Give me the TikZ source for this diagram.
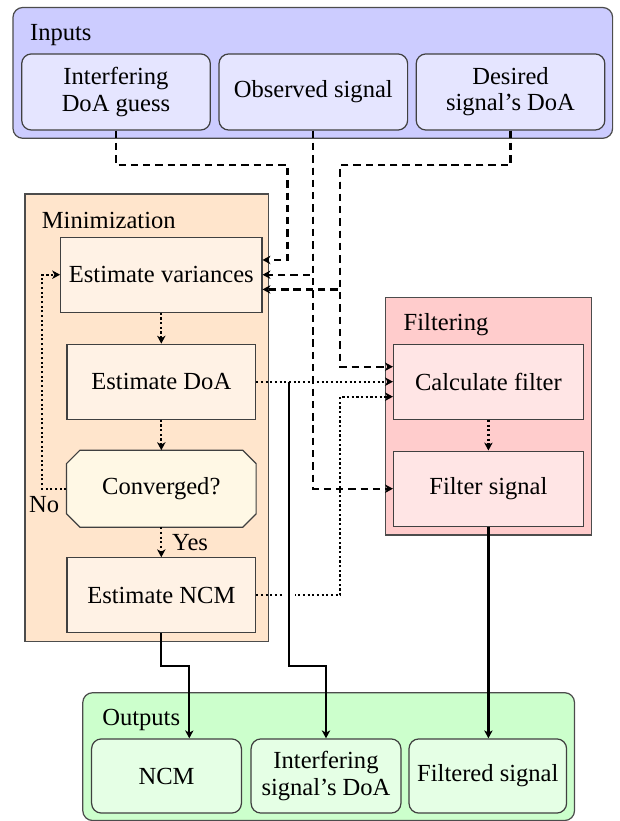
\documentclass[tikz,border=0pt]{standalone}
\usepackage{fontspec}
\setmainfont{Liberation Serif}
\usetikzlibrary{arrows.meta,calc}
\pgfdeclarelayer{bg}
\pgfsetlayers{bg,main}
\definecolor{convcol}{RGB}{255,248,229}
\begin{document}
\begin{tikzpicture}[x=0.40711pt,y=-0.40711pt,
  font=\fontsize{10}{10.6}\selectfont,
  bx/.style={draw=black!75, line width=0.5pt, align=center, inner sep=3.33pt},
  inbx/.style={bx, rounded corners=4pt, fill=blue!10, minimum width=76.8pt, minimum height=31pt},
  minbx/.style={bx, fill=orange!10, minimum width=76.8pt, minimum height=30.5pt},
  convbx/.style={align=center, minimum width=76.8pt, minimum height=31pt, inner sep=3.33pt},
  octa/.style={draw=black!75, line width=0.5pt, fill=convcol},
  filbx/.style={bx, fill=red!10, minimum width=77.2pt, minimum height=30.6pt},
  outbx/.style={bx, rounded corners=4pt, fill=green!10, minimum width=61pt, minimum height=30.2pt},
  grp/.style={draw=black!70, line width=0.5pt},
  grplabel/.style={anchor=south west, inner sep=0pt},
  conn/.style={line width=0.9pt, -{Stealth[length=3.2pt,width=3.4pt,inset=0.9pt]}},
  dashconn/.style={conn, dash pattern=on 3pt off 2pt},
  dotconn/.style={conn, densely dotted},
  solconn/.style={conn},
]
\useasboundingbox (0,0) rectangle (619,821);

% group boxes
\begin{pgfonlayer}{bg}
\draw[grp, rounded corners=4pt, fill=blue!20] (13,7.5) rectangle (612.6,138.3);
\draw[grp, fill=orange!20] (25,194) rectangle (268.5,641.7);
\draw[grp, fill=red!20] (385.5,297.3) rectangle (591.5,535);
\draw[grp, rounded corners=4pt, fill=green!20] (82.8,692.7) rectangle (574.5,820.5);
\end{pgfonlayer}

% group labels
\node[grplabel] (linputs) at (29.6,46) {Inputs};
\node[grplabel] (lmin) at (41.4,229.3) {Minimization};
\node[grplabel] (lfil) at (403.2,336) {Filtering};
\node[grplabel] (lout) at (101.8,731) {Outputs};

% inputs
\node[inbx] (in1) at (116,92) {Interfering\\DoA guess};
\node[inbx] (in2) at (313.3,92) {Observed signal};
\node[inbx] (in3) at (510.5,92) {Desired\\signal's DoA};

% minimization
\node[minbx] (estvar) at (161.3,274.7) {Estimate variances};
\node[minbx] (estdoa) at (161.3,381.7) {Estimate DoA};
\node[convbx] (conv) at (161.3,488.7) {Converged?};
\node[minbx] (ncm) at (161.3,595.3) {Estimate NCM};
\begin{pgfonlayer}{bg}
\draw[octa] ($(conv.north west)+(13.5,0)$) -- ($(conv.north east)+(-13.5,0)$)
  -- ($(conv.north east)+(0,13.5)$) -- ($(conv.south east)+(0,-13.5)$)
  -- ($(conv.south east)+(-13.5,0)$) -- ($(conv.south west)+(13.5,0)$)
  -- ($(conv.south west)+(0,-13.5)$) -- ($(conv.north west)+(0,13.5)$) -- cycle;
\end{pgfonlayer}

% filtering
\node[filbx] (calcf) at (488.4,381.7) {Calculate filter};
\node[filbx] (filtsig) at (488.4,488.7) {Filter signal};

% outputs
\node[outbx] (out1) at (166.5,776) {NCM};
\node[outbx] (out2) at (326,776) {Interfering\\signal's DoA};
\node[outbx] (out3) at (487.8,776) {Filtered signal};

% bend points
\coordinate (j1) at (287.5,165);
\coordinate (j3) at (340.3,165);
\coordinate (br) at (289.1,381.7);
\coordinate (b1) at (189.3,666.3);
\coordinate (b2) at (326,666.3);

% dashed input connectors
\draw[dashconn] (in1.south) |- (j1) |- ([yshift=6pt]estvar.east);
\draw[dashconn] (in2.south) |- (estvar.east);
\draw[dashconn] (in2.south) |- (filtsig.west);
\draw[dashconn] (in3.south) |- (j3) |- ([yshift=-6pt]estvar.east);
\draw[dashconn] (in3.south) |- (j3) |- ([yshift=6.1pt]calcf.west);

% NCM to filter (dotted)
\draw[dotconn] (ncm.east) -- (ncm.east -| j3) |- ([yshift=-6.1pt]calcf.west);

% gap under the solid branch
\draw[white, line width=5pt] (br) -- (br |- b2);

% solid output connectors
\draw[solconn] (ncm.south) |- (b1) -- (b1 |- out1.north);
\draw[solconn] (br) |- (b2) -- (out2.north);
\draw[solconn] (filtsig.south) -- (filtsig.south |- out3.north);

% dotted flow
\draw[dotconn] (estvar.south) -- (estdoa.north);
\draw[dotconn] (estdoa.south) -- (conv.north);
\draw[dotconn] (conv.south) -- node[right, inner sep=4pt] {Yes} (ncm.north);
\draw[dotconn] (conv.west) node[below left, inner sep=2.5pt] {No} -- ++(-24.4,0) |- (estvar.west);
\draw[dotconn] (estdoa.east) -- (calcf.west);
\draw[dotconn] (calcf.south) -- (filtsig.north);
\end{tikzpicture}
\end{document}
